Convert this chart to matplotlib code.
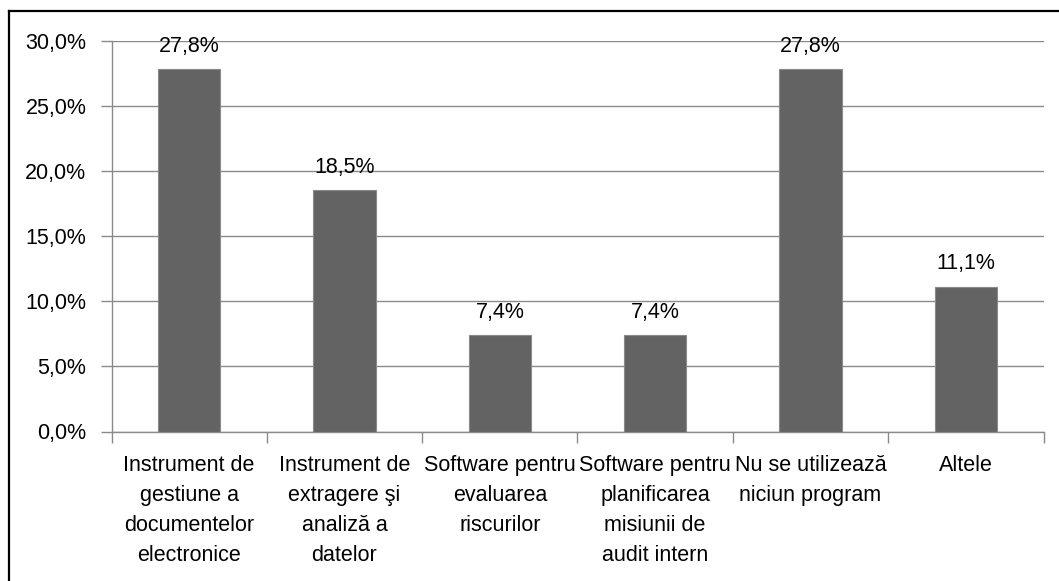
import matplotlib.pyplot as plt
from matplotlib.lines import Line2D
from matplotlib.ticker import FuncFormatter

categories = [
    "Instrument de\ngestiune a\ndocumentelor\nelectronice",
    "Instrument de\nextragere şi\nanaliză a\ndatelor",
    "Software pentru\nevaluarea\nriscurilor",
    "Software pentru\nplanificarea\nmisiunii de\naudit intern",
    "Nu se utilizează\nniciun program",
    "Altele",
]
values = [27.8, 18.5, 7.4, 7.4, 27.8, 11.1]
yticks = [0, 5, 10, 15, 20, 25, 30]

plt.rcParams['font.family'] = ['Liberation Sans', 'DejaVu Sans']
plt.rcParams['font.size'] = 15.5

W, H = 1059, 581
fig = plt.figure(figsize=(W / 100, H / 100), dpi=100)
ax = fig.add_axes([111.5 / W, 1 - 431.5 / H, (1043.5 - 111.5) / W, (431.5 - 40.5) / H])

# chart frame: only left and top edges are visible (cropped picture)
fig.lines.append(Line2D([8.5 / W, 8.5 / W], [0, 1 - 10.5 / H],
                        transform=fig.transFigure, color='black', linewidth=1.6))
fig.lines.append(Line2D([8.5 / W, 1], [1 - 10.5 / H, 1 - 10.5 / H],
                        transform=fig.transFigure, color='black', linewidth=1.6))

x = list(range(len(values)))
ax.bar(x, values, width=0.4, color='#636363', edgecolor='#8a8a8a',
       linewidth=0.8, zorder=3)

for xi, v in zip(x, values):
    ax.annotate(f"{v:.1f}%".replace('.', ','), (xi, v),
                xytext=(0, 12.5), textcoords='offset points',
                ha='center', va='baseline', fontsize=15.5)

ax.set_xlim(-0.5, len(values) - 0.5)
ax.set_ylim(0, 30)
ax.set_yticks(yticks)
ax.yaxis.set_major_formatter(FuncFormatter(lambda v, p: f"{v:.1f}%".replace('.', ',')))
ax.set_xticks([i - 0.5 for i in range(len(values) + 1)])
ax.set_xticklabels([])
ax.set_xticks(x, minor=True)
ax.set_xticklabels(categories, minor=True, linespacing=1.55)
ax.tick_params(axis='x', which='minor', length=0, pad=17)
ax.tick_params(axis='x', which='major', direction='out', length=8,
               color='#8a8a8a', width=1)
ax.tick_params(axis='y', direction='out', length=8, color='#8a8a8a',
               width=1, pad=10)

ax.grid(axis='y', color='#8a8a8a', linewidth=1, zorder=0)
ax.set_axisbelow(True)
for s in ['top', 'right']:
    ax.spines[s].set_visible(False)
for s in ['left', 'bottom']:
    ax.spines[s].set_color('#8a8a8a')
    ax.spines[s].set_linewidth(1)

fig.savefig('out.png', dpi=100)
